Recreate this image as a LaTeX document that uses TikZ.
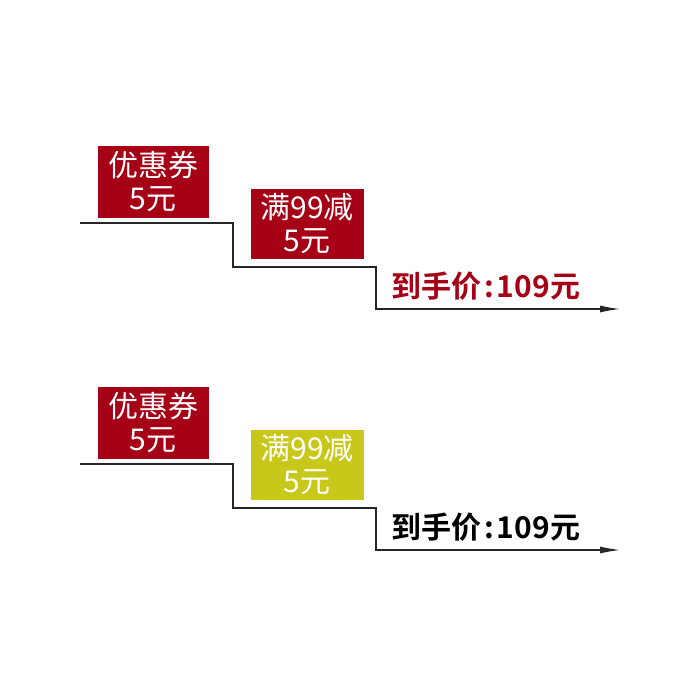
\documentclass[tikz,border=0pt]{standalone}
\usepackage{fontspec}
\newfontfamily\cjk{Noto Sans CJK SC}
\newfontfamily\cjkb{Noto Sans CJK SC Bold}
\usetikzlibrary{arrows.meta}
\definecolor{dred}{HTML}{A50016}
\definecolor{olive}{HTML}{C8C81A}
\tikzset{
  tag/.style={fill=#1, text=white, inner sep=0pt, align=center,
    font=\cjk\fontsize{30}{33}\selectfont},
  stair/.style={draw=black!85, line width=1.2pt},
  price/.style={font=\cjkb\fontsize{30}{33}\selectfont, anchor=west, inner sep=0pt}
}
\begin{document}
\begin{tikzpicture}[x=1pt,y=-1pt]
\useasboundingbox (0,0) rectangle (700,700);
\foreach \dy/\col/\pc [count=\i] in {0/dred/dred, 241/olive/black}{
  \begin{scope}[yshift=-\dy pt]
  \node[tag=dred, minimum width=111pt, minimum height=72pt] (a\i) at (153,182) {优惠券\\5元};
  \node[tag=\col, minimum width=113pt, minimum height=70pt] (b\i) at (307,224) {满99减\\5元};
  \node[price, text=\pc] (p\i) at (391,286) {到手价\hspace{3pt}:\hspace{3pt}109元};
  \coordinate (s\i) at (80,223);
  \coordinate (c\i) at (233,223);
  \coordinate (d\i) at (233,267);
  \coordinate (e\i) at (376,267);
  \coordinate (f\i) at (376,309);
  \coordinate (g\i) at (620,309);
  \draw[stair, -{Latex[length=20pt,width=7pt]}] (s\i) -- (c\i) -- (d\i) -- (e\i) -- (f\i) -- (g\i);
  \end{scope}
}
\end{tikzpicture}
\end{document}
